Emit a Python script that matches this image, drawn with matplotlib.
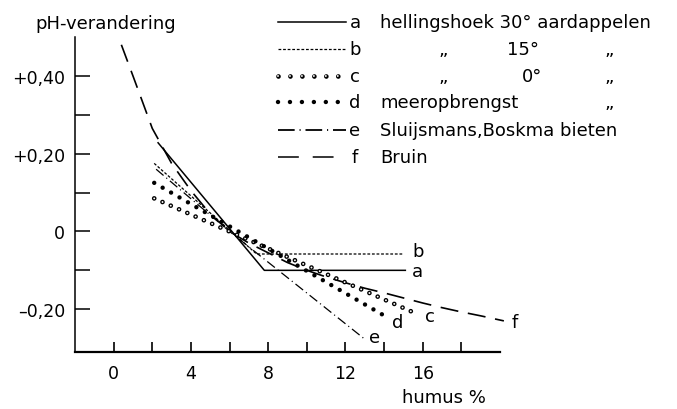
import matplotlib
matplotlib.use("Agg")
import matplotlib.pyplot as plt
from matplotlib.lines import Line2D
import matplotlib.patheffects as pe

plt.rcParams['font.family'] = ['DejaVu Sans']
plt.rcParams['lines.scale_dashes'] = False

# pH change against humus content, one curve per source
a_x = [2.3, 7.8, 15.1]
a_y = [0.228, -0.10, -0.10]
b_x = [2.1, 7.4, 15.0]
b_y = [0.175, -0.058, -0.058]
c_x = [2.1, 15.7]
c_y = [0.085, -0.212]
d_x = [2.1, 14.2]
d_y = [0.125, -0.222]
e_x = [2.2, 6.0, 13.0]
e_y = [0.16, 0.0, -0.277]
f_x = [0.4, 1.0, 2.0, 3.0, 4.0, 5.0, 6.0, 7.0, 8.0, 9.0, 10.0, 11.0,
       12.0, 13.0, 14.0, 15.0, 16.0, 17.0, 18.0, 19.0, 20.2]
f_y = [0.48, 0.40, 0.265, 0.175, 0.105, 0.045, 0.0, -0.03, -0.055, -0.08,
       -0.10, -0.117, -0.132, -0.146, -0.158, -0.171, -0.184, -0.196,
       -0.207, -0.217, -0.23]

x_major = [0, 4, 8, 12, 16]
x_minor = [2, 6, 10, 14, 18]
y_major = [0.4, 0.2, 0.0, -0.2]
y_major_labels = ['+0,40', '+0,20', '0', '\u20130,20']
y_minor = [0.3, 0.1, -0.1]

legend_keys = ['a', 'b', 'c', 'd', 'e', 'f']
# label next to each curve end: (x, y)
end_labels = {'a': (15.75, -0.103), 'b': (15.75, -0.051), 'c': (16.35, -0.218),
              'd': (14.7, -0.234), 'e': (13.5, -0.272), 'f': (20.75, -0.234)}

W, H = 677, 410
fig = plt.figure(figsize=(W / 100, H / 100), dpi=100)
ax = fig.add_axes([75 / W, 1 - 353 / H, 425 / W, 315 / H])
ax.set_xlim(-2, 20)
ax.set_ylim(-0.31, 0.5)

FS = 13
TFS = 12.5
styles = {
    'a': dict(color='black', lw=1.1, ls='-'),
    'b': dict(color='black', lw=0.9, ls=(0, (2.0, 1.3))),
    'e': dict(color='black', lw=0.9, ls=(0, (7.0, 2.6, 0.8, 2.6))),
    'f': dict(color='black', lw=1.2, ls=(0, (13.0, 7.0))),
}


def _add(target, ln):
    if hasattr(target, 'add_line'):
        target.add_line(ln)
    else:
        target.add_artist(ln)
    return ln


def ring_line(target, xs, ys, spacing, **kw):
    ln = Line2D(xs, ys, color='white', lw=1.4, ls=(0, (0.01, spacing)),
                dash_capstyle='round', **kw)
    ln.set_path_effects([pe.Stroke(linewidth=3.4, foreground='black'), pe.Normal()])
    return _add(target, ln)


def dot_line(target, xs, ys, spacing, **kw):
    ln = Line2D(xs, ys, color='black', lw=3.2, ls=(0, (0.01, spacing)),
                dash_capstyle='round', **kw)
    return _add(target, ln)


ax.plot(f_x, f_y, clip_on=False, **styles['f'])
ax.plot(e_x, e_y, clip_on=False, **styles['e'])
ax.plot(b_x, b_y, clip_on=False, **styles['b'])
ax.plot(a_x, a_y, clip_on=False, **styles['a'])
ring_line(ax, c_x, c_y, 6.5, clip_on=False)
dot_line(ax, d_x, d_y, 7.0, clip_on=False)

for k, (lx, ly) in end_labels.items():
    ax.text(lx, ly, k, fontsize=FS, ha='center', va='center', clip_on=False)

# axes frame
for s in ['top', 'right']:
    ax.spines[s].set_visible(False)
ax.spines['bottom'].set_linewidth(1.6)
ax.spines['left'].set_linewidth(1.1)

ax.set_xticks(x_major)
ax.set_xticklabels([str(v) for v in x_major])
ax.set_xticks(x_minor, minor=True)
ax.set_yticks(y_major)
ax.set_yticklabels(y_major_labels)
ax.set_yticks(y_minor, minor=True)
ax.tick_params(axis='x', which='both', direction='in', length=7.5, width=1.2,
               pad=9, labelsize=TFS)
ax.tick_params(axis='y', which='both', direction='in', length=11, width=1.1,
               pad=7, labelsize=TFS)

fig.text(35 / W, 1 - 29 / H, 'pH-verandering', fontsize=FS, ha='left', va='baseline')
fig.text(402 / W, 1 - 398 / H, 'humus %', fontsize=FS, ha='left', va='center')

# legend drawn by hand at the upper right
rows_y = [23, 50, 77, 103, 131, 158]
lx0, lx1 = 278 / W, 346 / W
for key, py in zip(legend_keys, rows_y):
    yy = 1 - py / H
    if key in styles:
        st = dict(styles[key])
        if key == 'e':
            st['ls'] = (0, (12.0, 3.5, 0.8, 3.5))
            st['lw'] = 1.3
        if key == 'f':
            st['ls'] = (0, (15.0, 10.0))
            st['lw'] = 1.1
        fig.add_artist(Line2D([lx0, lx1], [yy, yy], transform=fig.transFigure, **st))
    elif key == 'c':
        ring_line(fig, [lx0, lx1], [yy, yy], 8.6, transform=fig.transFigure)
    else:
        dot_line(fig, [lx0, lx1], [yy, yy], 8.6, transform=fig.transFigure)
    fig.text(355 / W, yy, key, fontsize=FS, ha='center', va='center')

legend_texts = [
    [(380, 'hellingshoek 30\u00b0 aardappelen')],
    [(443, '\u201e'), (507, '15\u00b0'), (609, '\u201e')],
    [(443, '\u201e'), (522, '0\u00b0'), (609, '\u201e')],
    [(380, 'meeropbrengst'), (609, '\u201e')],
    [(380, 'Sluijsmans,Boskma bieten')],
    [(380, 'Bruin')],
]
for items, py in zip(legend_texts, rows_y):
    for px, s in items:
        ha = 'center' if s == '\u201e' else 'left'
        fig.text(px / W, 1 - py / H, s, fontsize=FS, ha=ha, va='center')

fig.savefig('out.png', dpi=100)
